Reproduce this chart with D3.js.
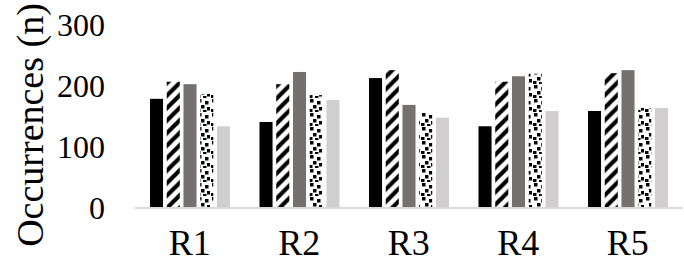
<!DOCTYPE html>
<html><head><meta charset="utf-8">
<script src="https://cdn.jsdelivr.net/npm/d3@7"></script>
<style>body{margin:0;background:#fff}svg{display:block}text{font-family:"Liberation Serif","Times New Roman",serif}</style>
</head><body>
<script>
const categories = ["R1","R2","R3","R4","R5"];
const seriesNames = ["S1","S2","S3","S4","S5"];
const s1 = [179,141,213,134,159];
const s2 = [207,203,226,207,221];
const s3 = [203,223,169,216,226];
const s4 = [187,185,156,220,164];
const s5 = [134,177,148,159,164];
const yTicks = [0,100,200,300];
const seriesValues = [s1,s2,s3,s4,s5];

const W=684,H=266;
const svg=d3.select("body").append("svg").attr("width",W).attr("height",H);
const defs=svg.append("defs");
// diagonal hatch
const p1=defs.append("pattern").attr("id","hatch").attr("patternUnits","userSpaceOnUse")
  .attr("width",12.5).attr("height",12.5);
p1.append("rect").attr("width",12.5).attr("height",12.5).attr("fill","#fff");
p1.append("path").attr("d","M-3,15.5 L15.5,-3 M-3,3 L3,-3 M9.5,15.5 L15.5,9.5").attr("stroke","#000").attr("stroke-width",4.2);
// confetti
const p2=defs.append("pattern").attr("id","confetti").attr("patternUnits","userSpaceOnUse")
  .attr("width",14).attr("height",14);
p2.append("rect").attr("width",14).attr("height",14).attr("fill","#fff");
[[2,1],[9,3],[5,7],[11,9],[1,11],[7,12]].forEach(([x,y])=>p2.append("rect").attr("x",x).attr("y",y).attr("width",3.5).attr("height",3.5).attr("fill","#000"));

const fills=["#000","url(#hatch)","#767171","url(#confetti)","#D0CECE"];

const y=d3.scaleLinear().domain([0,300]).range([208,25]);
const x0=d3.scaleBand().domain(categories).range([135,682.5]).padding(0);
const x1=d3.scaleBand().domain(seriesNames).range([15,95]).paddingInner(0.22).paddingOuter(0);

// bars
const g=svg.append("g");
categories.forEach((c,ci)=>{
  seriesNames.forEach((s,si)=>{
    const v=seriesValues[si][ci];
    g.append("rect").attr("x",x0(c)+x1(s)).attr("y",y(v)).attr("width",x1.bandwidth())
      .attr("height",y(0)-y(v)).attr("fill",fills[si]);
  });
});

// x axis line
svg.append("line").attr("x1",135).attr("x2",682.5).attr("y1",y(0)).attr("y2",y(0))
  .attr("stroke","#D9D9D9").attr("stroke-width",2);

// y tick labels
svg.selectAll(".yt").data(yTicks).enter().append("text")
  .attr("x",105).attr("y",d=>y(d)).attr("dy","0.35em").attr("text-anchor","end")
  .attr("font-size",32).attr("fill","#000").text(d=>d);

// x labels
svg.selectAll(".xl").data(categories).enter().append("text")
  .attr("x",d=>x0(d)+x0.bandwidth()/2).attr("y",255).attr("text-anchor","middle")
  .attr("font-size",36).attr("fill","#000").text(d=>d);

// y title
svg.append("text").attr("transform","translate(43,125) rotate(-90)").attr("text-anchor","middle")
  .attr("font-size",38).attr("fill","#000").text("Occurrences (n)");
</script>
</body></html>
